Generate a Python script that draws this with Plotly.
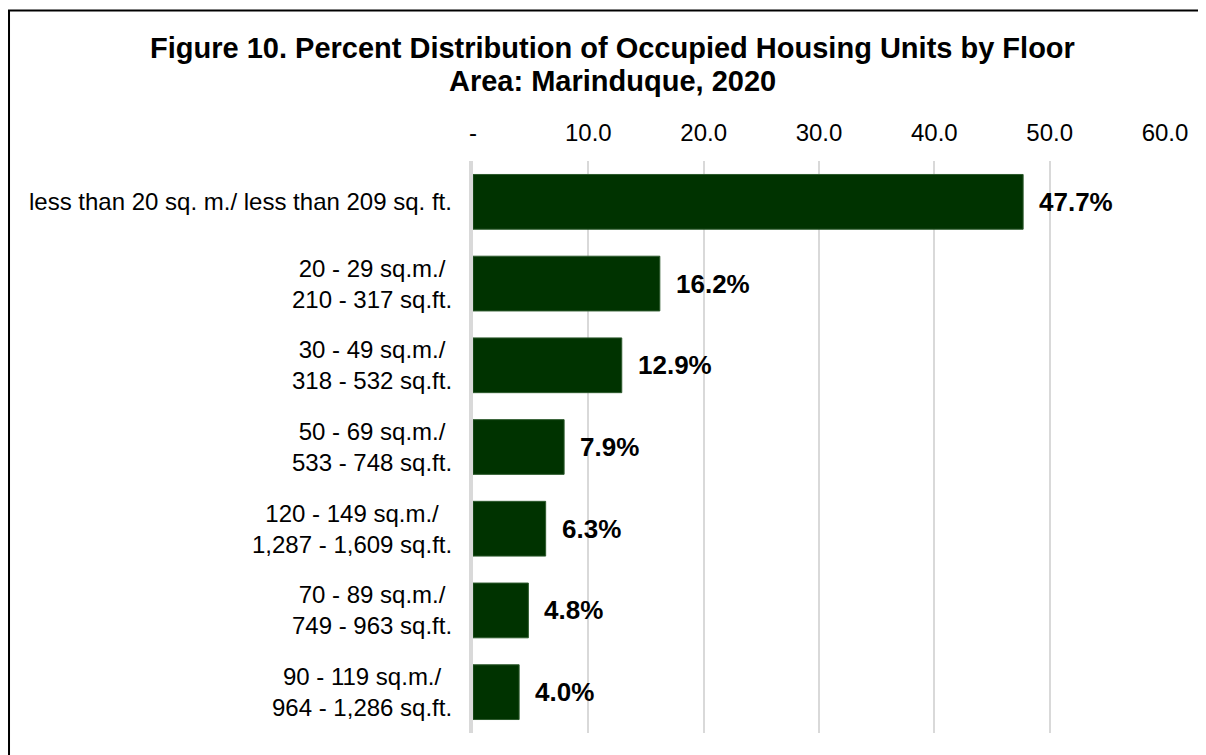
import plotly.graph_objects as go

categories = [
    "less than 20 sq. m./ less than 209 sq. ft.",
    "20 - 29 sq.m./<br>210 - 317 sq.ft.",
    "30 - 49 sq.m./<br>318 - 532 sq.ft.",
    "50 - 69 sq.m./<br>533 - 748 sq.ft.",
    "120 - 149 sq.m./<br>1,287 - 1,609 sq.ft.",
    "70 - 89 sq.m./<br>749 - 963 sq.ft.",
    "90 - 119 sq.m./<br>964 - 1,286 sq.ft.",
]
values = [47.7, 16.2, 12.9, 7.9, 6.3, 4.8, 4.0]
tick_vals = [0, 10, 20, 30, 40, 50, 60]
tick_text = ["-", "10.0", "20.0", "30.0", "40.0", "50.0", "60.0"]
title_line1 = "<b>Figure 10. Percent Distribution of Occupied Housing Units by Floor</b>"
title_line2 = "<b>Area: Marinduque, 2020</b>"

FONT = "Liberation Sans, Arial, sans-serif"

fig = go.Figure()
fig.add_trace(go.Bar(
    x=values, y=categories, orientation="h",
    marker=dict(color="#003300", line=dict(color="#2d5a2d", width=1)),
    hoverinfo="skip",
))

annotations = []
for c, v in zip(categories, values):
    annotations.append(dict(
        x=0, xref="paper", y=c, yref="y", text=c, showarrow=False,
        xanchor="right", yanchor="middle", align="center", xshift=-19,
        font=dict(family=FONT, size=24, color="#000000"),
    ))
    annotations.append(dict(
        x=v, xref="x", y=c, yref="y", text="<b>%.1f%%</b>" % v, showarrow=False,
        xanchor="left", yanchor="middle", xshift=14,
        font=dict(family=FONT, size=26, color="#000000"),
    ))

for txt, yy in [(title_line1, 1.1976), (title_line2, 1.1399)]:
    annotations.append(dict(
        x=0.2023, xref="paper", y=yy, yref="paper", text=txt, showarrow=False,
        xanchor="center", yanchor="middle",
        font=dict(family=FONT, size=29, color="#000000"),
    ))

fig.update_layout(
    width=1198, height=747,
    margin=dict(l=465, r=41, t=153, b=22, pad=0),
    paper_bgcolor="white", plot_bgcolor="white",
    showlegend=False,
    bargap=0.33,
    xaxis=dict(range=[0, 60], side="top", tickvals=tick_vals, ticktext=tick_text,
               showgrid=True, gridcolor="#d9d9d9", gridwidth=2,
               zeroline=False, showline=False, ticks="", ticklabelstandoff=14,
               tickfont=dict(family=FONT, size=24, color="#000000"), fixedrange=True),
    yaxis=dict(autorange="reversed", showticklabels=False, showgrid=False,
               zeroline=False, showline=True, linecolor="#d9d9d9", linewidth=4,
               ticks="", fixedrange=True),
    annotations=annotations,
    shapes=[dict(type="rect", xref="paper", yref="paper",
                 x0=-0.6705, x1=1.2, y0=-0.2, y1=1.2631,
                 line=dict(color="#000000", width=2), fillcolor="rgba(0,0,0,0)")],
)

fig.write_html("out.html")
